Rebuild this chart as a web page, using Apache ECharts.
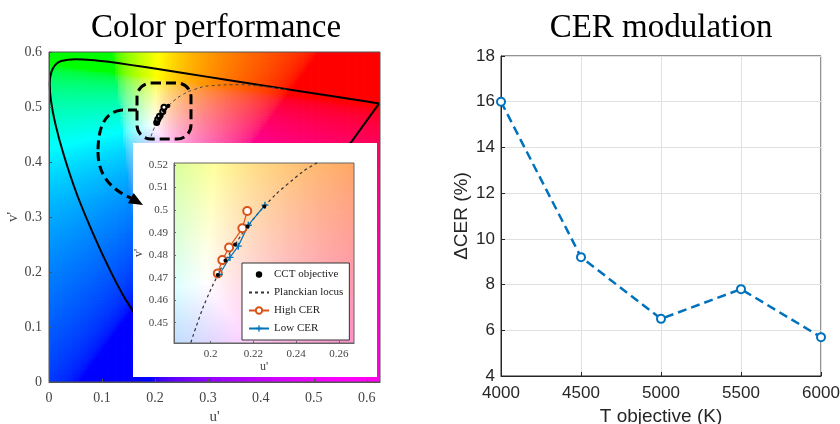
<!DOCTYPE html>
<html>
<head>
<meta charset="utf-8">
<script src="https://cdn.jsdelivr.net/npm/echarts@6.0.0/dist/echarts.min.js"></script>
<style>
  html, body { margin: 0; padding: 0; background: #fff; }
  #main { width: 840px; height: 424px; }
</style>
</head>
<body>
<div id="main"></div>
<script>
// spectral locus (u', v'), 380 nm -> 700 nm
const locusU = [0.2568, 0.2347, 0.2161, 0.1877, 0.1441, 0.1147, 0.0828, 0.0521, 0.0282, 0.0119, 0.0035,
  0.0014, 0.0046, 0.0123, 0.0231, 0.0501, 0.0792, 0.1127, 0.1531, 0.2026, 0.2623, 0.3315, 0.4035,
  0.5203, 0.6005, 0.6234];
const locusV = [0.0166, 0.0350, 0.0549, 0.0871, 0.1510, 0.2044, 0.2708, 0.3427, 0.4117, 0.4698, 0.5131,
  0.5432, 0.5638, 0.5770, 0.5837, 0.5868, 0.5856, 0.5821, 0.5766, 0.5694, 0.5604, 0.5501, 0.5393,
  0.5219, 0.5099, 0.5065];

// planckian locus, 1000 K -> 10000 K
const planckU = [0.4481, 0.4060, 0.3579, 0.3051, 0.2722, 0.2505, 0.2357, 0.2251, 0.2173, 0.2114, 0.2069,
  0.2033, 0.1981, 0.1946, 0.1903];
const planckV = [0.5319, 0.5369, 0.5405, 0.5386, 0.5311, 0.5214, 0.5113, 0.5016, 0.4927, 0.4847, 0.4776,
  0.4712, 0.4606, 0.4521, 0.4400];

// CCT objectives 4000..6000 K
const cctU = [0.2251, 0.2173, 0.2114, 0.2069, 0.2033];
const cctV = [0.5016, 0.4927, 0.4847, 0.4776, 0.4712];

const highU = [0.2033, 0.2054, 0.2086, 0.2148, 0.2171];
const highV = [0.4719, 0.4778, 0.4834, 0.4919, 0.4996];

const lowU = [0.2040, 0.2090, 0.2129, 0.2176, 0.2254];
const lowV = [0.4714, 0.4790, 0.4840, 0.4933, 0.5022];

// CER modulation
const tObjective = [4000, 4500, 5000, 5500, 6000];
const deltaCER = [16.0, 9.2, 6.5, 7.8, 5.7];

const mainTicks = [0, 0.1, 0.2, 0.3, 0.4, 0.5, 0.6];
const insetTicksU = [0.2, 0.22, 0.24, 0.26];
const insetTicksV = [0.45, 0.46, 0.47, 0.48, 0.49, 0.5, 0.51, 0.52];

const SERIF = 'Liberation Serif';
const SANS = 'Liberation Sans';

function zip(a, b) {
  return a.map(function (v, i) { return [v, b[i]]; });
}

// u'v' -> sRGB colour of the chromaticity plane
function chromaColor(u, v) {
  v = Math.max(v, 1e-4);
  const d = 6 * u - 16 * v + 12;
  const x = 9 * u / d, y = 4 * v / d;
  const X = x / y, Y = 1, Z = (1 - x - y) / y;
  let rgb = [
    3.2406 * X - 1.5372 * Y - 0.4986 * Z,
    -0.9689 * X + 1.8758 * Y + 0.0415 * Z,
    0.0557 * X - 0.2040 * Y + 1.0570 * Z
  ].map(function (c) { return Math.max(c, 0); });
  const m = Math.max(rgb[0], rgb[1], rgb[2]) || 1;
  rgb = rgb.map(function (c) {
    c = c / m;
    c = c <= 0.0031308 ? 12.92 * c : 1.055 * Math.pow(c, 1 / 2.4) - 0.055;
    return Math.round(Math.min(1, c) * 255);
  });
  return 'rgb(' + rgb.join(',') + ')';
}

// cell grid for the colour background
function fieldCells(u0, u1, v0, v1, step) {
  const cells = [];
  for (let u = u0 + step / 2; u < u1; u += step) {
    for (let v = v0 + step / 2; v < v1; v += step) {
      cells.push([u, v]);
    }
  }
  return cells;
}

function fieldRender(step) {
  return function (params, api) {
    const u = api.value(0), v = api.value(1);
    const p0 = api.coord([u - step / 2, v + step / 2]);
    const p1 = api.coord([u + step / 2, v - step / 2]);
    return {
      type: 'rect',
      shape: { x: p0[0], y: p0[1], width: p1[0] - p0[0] + 0.7, height: p1[1] - p0[1] + 0.7 },
      style: { fill: chromaColor(u, v) }
    };
  };
}

const chart = echarts.init(document.getElementById('main'));

const ORANGE = '#D95319';
const BLUE = '#0072BD';
const plusPath = 'path://M4,0h2v4h4v2h-4v4h-2v-4h-4v-2h4z';
const dashBlack = { fill: null, stroke: '#000', lineWidth: 3, lineDash: [9, 5] };

const option = {
  animation: false,
  backgroundColor: '#fff',
  title: [
    { text: 'Color performance', left: 216, top: 12, textAlign: 'center', padding: 0,
      textStyle: { fontFamily: SERIF, fontSize: 33, fontWeight: 'normal', color: '#000' } },
    { text: 'CER modulation', left: 661, top: 12, textAlign: 'center', padding: 0,
      textStyle: { fontFamily: SERIF, fontSize: 33, fontWeight: 'normal', color: '#000' } }
  ],
  grid: [
    { left: 49, top: 52, width: 331, height: 330, outerBoundsMode: 'none', containLabel: false,
      show: true, borderColor: '#555', borderWidth: 1, z: 4 },
    { left: 174, top: 163, width: 180, height: 180, outerBoundsMode: 'none', containLabel: false,
      show: true, borderColor: '#666', borderWidth: 1, z: 21 },
    { left: 501, top: 56, width: 320, height: 320, outerBoundsMode: 'none', containLabel: false,
      show: true, borderColor: '#262626', borderWidth: 1 }
  ],
  xAxis: [
    {
      gridIndex: 0, type: 'value', min: 0, max: 0.625, z: 5,
      name: "u'", nameLocation: 'middle', nameGap: 27,
      nameTextStyle: { fontFamily: SERIF, fontSize: 15, color: '#444' },
      axisLine: { lineStyle: { color: '#555' } },
      axisTick: { inside: true, length: 3, customValues: mainTicks, lineStyle: { color: '#555' } },
      axisLabel: { customValues: mainTicks, fontFamily: SERIF, fontSize: 14, color: '#444', margin: 9 },
      splitLine: { show: false }
    },
    {
      gridIndex: 1, type: 'value', min: 0.1828, max: 0.2671, z: 21,
      name: "u'", nameLocation: 'middle', nameGap: 16,
      nameTextStyle: { fontFamily: SERIF, fontSize: 12, color: '#444' },
      axisLine: { lineStyle: { color: '#666' } },
      axisTick: { inside: true, length: 2, customValues: insetTicksU, lineStyle: { color: '#666' } },
      axisLabel: { customValues: insetTicksU, fontFamily: SERIF, fontSize: 11, color: '#444', margin: 6 },
      splitLine: { show: false }
    },
    {
      gridIndex: 2, type: 'value', min: 4000, max: 6000, interval: 500,
      name: 'T objective (K)', nameLocation: 'middle', nameGap: 31,
      nameTextStyle: { fontFamily: SANS, fontSize: 19, color: '#262626' },
      axisLine: { lineStyle: { color: '#262626' } },
      axisTick: { inside: true, length: 4, lineStyle: { color: '#262626' } },
      axisLabel: { fontFamily: SANS, fontSize: 17, color: '#262626', margin: 9,
        formatter: function (val) { return String(val); } },
      splitLine: { show: true, lineStyle: { color: '#e0e0e0' } }
    }
  ],
  yAxis: [
    {
      gridIndex: 0, type: 'value', min: 0, max: 0.6, z: 5,
      name: "v'", nameLocation: 'middle', nameGap: 26, nameRotate: 90,
      nameTextStyle: { fontFamily: SERIF, fontSize: 15, color: '#444' },
      axisLine: { lineStyle: { color: '#555' } },
      axisTick: { inside: true, length: 3, customValues: mainTicks, lineStyle: { color: '#555' } },
      axisLabel: { customValues: mainTicks, fontFamily: SERIF, fontSize: 14, color: '#444', margin: 7 },
      splitLine: { show: false }
    },
    {
      gridIndex: 1, type: 'value', min: 0.441, max: 0.5209, z: 21,
      name: "v'", nameLocation: 'middle', nameGap: 28, nameRotate: 90,
      nameTextStyle: { fontFamily: SERIF, fontSize: 12, color: '#444' },
      axisLine: { lineStyle: { color: '#666' } },
      axisTick: { inside: true, length: 2, customValues: insetTicksV, lineStyle: { color: '#666' } },
      axisLabel: { customValues: insetTicksV, fontFamily: SERIF, fontSize: 11, color: '#444', margin: 6 },
      splitLine: { show: false }
    },
    {
      gridIndex: 2, type: 'value', min: 4, max: 18, interval: 2,
      name: 'ΔCER (%)', nameLocation: 'middle', nameGap: 30, nameRotate: 90,
      nameTextStyle: { fontFamily: SANS, fontSize: 19, color: '#262626' },
      axisLine: { lineStyle: { color: '#262626' } },
      axisTick: { inside: true, length: 4, lineStyle: { color: '#262626' } },
      axisLabel: { fontFamily: SANS, fontSize: 17, color: '#262626', margin: 6 },
      splitLine: { show: true, lineStyle: { color: '#e0e0e0' } }
    }
  ],
  legend: {
    data: [
      'CCT objective',
      { name: 'Planckian locus', itemStyle: { color: 'rgba(0,0,0,0)', borderWidth: 0, opacity: 0 } },
      'High CER',
      'Low CER'
    ],
    orient: 'vertical', left: 242, top: 263, z: 30,
    itemWidth: 20, itemHeight: 8, itemGap: 7,
    padding: [6, 6, 6, 6],
    backgroundColor: '#fff', borderColor: '#333', borderWidth: 1, borderRadius: 0,
    textStyle: { fontFamily: SERIF, fontSize: 11, color: '#222' }
  },
  graphic: [
    // white box behind the inset axes
    { type: 'rect', z: 10, shape: { x: 133, y: 143, width: 244, height: 234 }, style: { fill: '#fff' } },
    // dashed zoom box
    { type: 'rect', z: 15, shape: { x: 137, y: 83, width: 54, height: 56, r: 14 },
      style: { fill: null, stroke: '#000', lineWidth: 3, lineDash: [10, 5] } },
    // dashed arrow to the inset
    { type: 'line', z: 15, shape: { x1: 137, y1: 110, x2: 122, y2: 110 }, style: dashBlack },
    { type: 'bezierCurve', z: 15,
      shape: { x1: 122, y1: 110, cpx1: 104, cpy1: 112, cpx2: 98, cpy2: 128, x2: 98, y2: 152 },
      style: dashBlack },
    { type: 'bezierCurve', z: 15,
      shape: { x1: 98, y1: 152, cpx1: 98, cpy1: 176, cpx2: 112, cpy2: 190, x2: 131, y2: 198 },
      style: dashBlack },
    { type: 'polygon', z: 15,
      shape: { points: [[143, 205], [127.9, 203.3], [133.7, 192.9]] },
      style: { fill: '#000' } }
  ],
  series: [
    // ---- main chromaticity diagram
    {
      type: 'custom', xAxisIndex: 0, yAxisIndex: 0, z: 1, clip: true, silent: true,
      progressive: 0, progressiveThreshold: 1e9,
      renderItem: fieldRender(0.005),
      data: fieldCells(0, 0.625, 0, 0.6, 0.005)
    },
    {
      name: 'spectral locus', type: 'line', xAxisIndex: 0, yAxisIndex: 0, z: 3,
      data: zip(locusU, locusV), symbol: 'none', smooth: 0.2,
      lineStyle: { color: '#000', width: 2 }
    },
    {
      name: 'purple line', type: 'line', xAxisIndex: 0, yAxisIndex: 0, z: 3,
      data: [[locusU[locusU.length - 1], locusV[locusV.length - 1]], [locusU[0], locusV[0]]],
      symbol: 'none', lineStyle: { color: '#000', width: 2 }
    },
    {
      name: 'main planck', type: 'line', xAxisIndex: 0, yAxisIndex: 0, z: 3,
      data: zip(planckU, planckV), symbol: 'none', smooth: true,
      lineStyle: { color: '#444', width: 1, type: [3, 3] }
    },
    {
      name: 'main high', type: 'line', xAxisIndex: 0, yAxisIndex: 0, z: 4,
      data: zip(highU, highV), symbol: 'emptyCircle', symbolSize: 5,
      lineStyle: { color: '#000', width: 2 }, itemStyle: { color: '#000', borderWidth: 1.5 }
    },
    {
      name: 'main low', type: 'line', xAxisIndex: 0, yAxisIndex: 0, z: 4,
      data: zip(lowU, lowV), symbol: 'circle', symbolSize: 4,
      lineStyle: { color: '#000', width: 2 }, itemStyle: { color: '#000' }
    },
    {
      name: 'main cct', type: 'scatter', xAxisIndex: 0, yAxisIndex: 0, z: 4,
      data: zip(cctU, cctV), symbol: 'circle', symbolSize: 4, itemStyle: { color: '#000' }
    },
    // ---- inset
    {
      type: 'custom', xAxisIndex: 1, yAxisIndex: 1, z: 20, clip: true, silent: true,
      progressive: 0, progressiveThreshold: 1e9,
      renderItem: fieldRender(0.0015),
      data: fieldCells(0.18, 0.27, 0.438, 0.524, 0.0015)
    },
    {
      name: 'Planckian locus', type: 'line', xAxisIndex: 1, yAxisIndex: 1, z: 22,
      data: zip(planckU, planckV), symbol: 'none', smooth: true, clip: true,
      lineStyle: { color: '#333', width: 1.2, type: [3, 3] },
      itemStyle: { color: '#333' }
    },
    {
      name: 'High CER', type: 'line', xAxisIndex: 1, yAxisIndex: 1, z: 23,
      data: zip(highU, highV), symbol: 'emptyCircle', symbolSize: 8,
      lineStyle: { color: ORANGE, width: 1.2 }, itemStyle: { color: ORANGE, borderWidth: 1.2 }
    },
    {
      name: 'Low CER', type: 'line', xAxisIndex: 1, yAxisIndex: 1, z: 23,
      data: zip(lowU, lowV), symbol: plusPath, symbolSize: 7,
      lineStyle: { color: BLUE, width: 1.2 }, itemStyle: { color: BLUE }
    },
    {
      name: 'CCT objective', type: 'line', xAxisIndex: 1, yAxisIndex: 1, z: 24,
      data: zip(cctU, cctV), symbol: 'circle', symbolSize: 4,
      lineStyle: { opacity: 0 }, itemStyle: { color: '#000' }
    },
    // ---- CER modulation
    {
      name: 'ΔCER', type: 'line', xAxisIndex: 2, yAxisIndex: 2,
      data: zip(tObjective, deltaCER), symbol: 'emptyCircle', symbolSize: 8,
      lineStyle: { color: BLUE, width: 2.5, type: [9, 5] },
      itemStyle: { color: BLUE, borderWidth: 2 }
    }
  ]
};

chart.setOption(option);
</script>
</body>
</html>
